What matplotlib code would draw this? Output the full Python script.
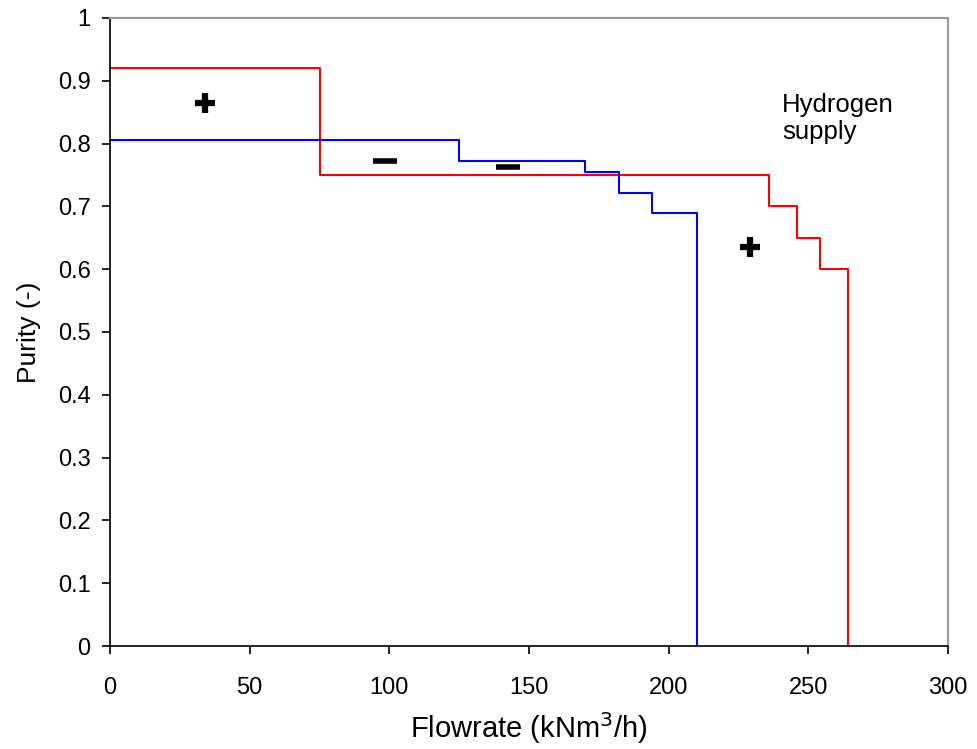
import matplotlib
matplotlib.use("Agg")
import matplotlib.pyplot as plt

# Data
red_x = [0, 75, 236, 246, 254, 264, 264]
red_y = [0.92, 0.75, 0.70, 0.65, 0.60, 0.0, 0.0]
blue_x = [0, 125, 170, 182, 194, 210, 210]
blue_y = [0.805, 0.772, 0.754, 0.722, 0.689, 0.0, 0.0]

plus_x = [34, 229]
plus_y = [0.865, 0.635]
minus_x = [98.5, 142.5]
minus_y = [0.772, 0.762]

x_ticks = [0, 50, 100, 150, 200, 250, 300]
y_ticks = [0, 0.1, 0.2, 0.3, 0.4, 0.5, 0.6, 0.7, 0.8, 0.9, 1]
y_labels = ["0", "0.1", "0.2", "0.3", "0.4", "0.5", "0.6", "0.7", "0.8", "0.9", "1"]

plt.rcParams['font.family'] = ['Liberation Sans', 'DejaVu Sans']

fig = plt.figure(figsize=(9.78, 7.49), dpi=100)
ax = fig.add_axes([0.1125, 0.1375, 0.857, 0.8385])

ax.step(red_x, red_y, where='post', color='#ff0000', lw=1.5)
ax.step(blue_x, blue_y, where='post', color='#0000ff', lw=1.5)

ax.plot(plus_x, plus_y, ls='none', marker='+', ms=15, mew=4.5, color='black')
ax.plot(minus_x, minus_y, ls='none', marker='_', ms=17, mew=4, color='black')

ax.text(240.5, 0.84, "Hydrogen\nsupply", ha='left', va='center', fontsize=18.5, linespacing=1.15)

ax.set_xlim(0, 300)
ax.set_ylim(0, 1)
ax.set_xticks(x_ticks)
ax.set_xticklabels([str(v) for v in x_ticks], fontsize=17)
ax.set_yticks(y_ticks)
ax.set_yticklabels(y_labels, fontsize=17)
ax.tick_params(axis='both', direction='out', length=6, width=1.2)
ax.tick_params(axis='x', pad=16)
ax.tick_params(axis='y', pad=8)

for s in ['left', 'bottom']:
    ax.spines[s].set_color('black')
    ax.spines[s].set_linewidth(1.2)
for s in ['top', 'right']:
    ax.spines[s].set_color('#999999')
    ax.spines[s].set_linewidth(1.5)

ax.set_xlabel("Flowrate (kNm$^3$/h)", fontsize=21, labelpad=8)
ax.set_ylabel("Purity (-)", fontsize=19, labelpad=12)

fig.savefig("out.png", dpi=100)
